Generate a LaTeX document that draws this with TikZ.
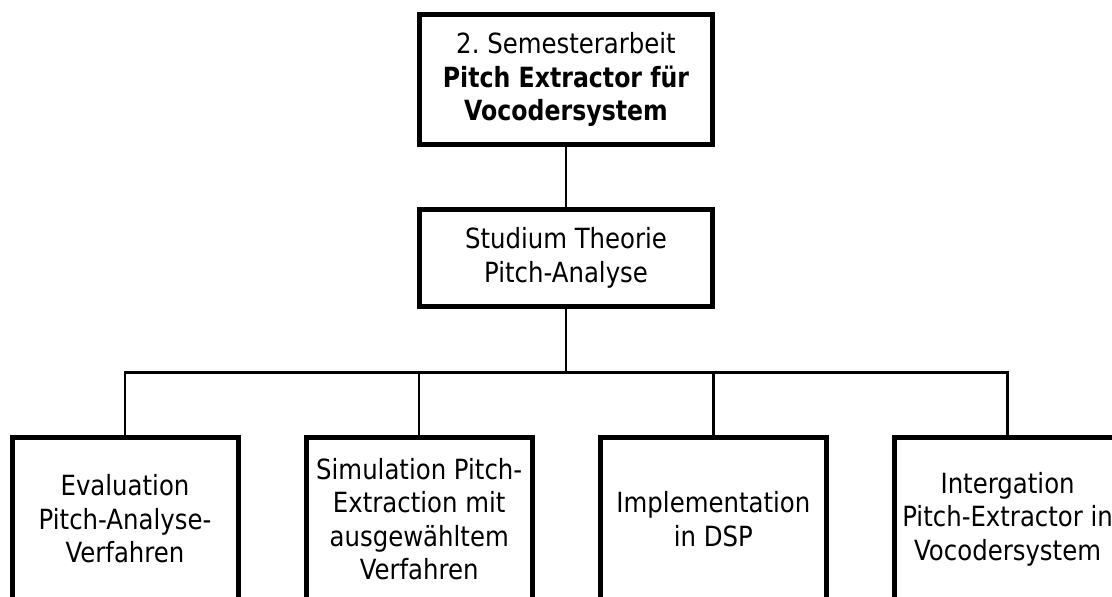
\documentclass[tikz,border=0pt]{standalone}
\usepackage{fontspec}
\setmainfont{DejaVu Sans}[FakeStretch=0.878,BoldFeatures={FakeStretch=0.85}]
\tikzset{
  box/.style={draw,line width=5pt,align=center,inner sep=0pt,font=\fontsize{27.8}{33.5}\selectfont\frenchspacing},
  conn/.style={line width=2.5pt},
}
\begin{document}
\begin{tikzpicture}[x=1pt,y=-1pt]
\pgfmathsetmacro{\kbw}{226}
\pgfmathsetmacro{\kbh}{163}
\pgfmathsetmacro{\kxstep}{294.2}
\pgfmathsetmacro{\kbus}{372.5}
\path[use as bounding box,clip](0,0) rectangle (1112,597);
\node[box,minimum width=293pt,minimum height=130pt](thesis) at (566,79.5){2. Semesterarbeit\\\textbf{Pitch Extractor für}\\\textbf{Vocodersystem}};
\node[box,minimum width=293pt,minimum height=96.5pt](theory) at (566,258){Studium Theorie\\Pitch-Analyse};
\coordinate (bus) at (566,\kbus);
\draw[conn](thesis)--(theory);
\draw[conn](theory)--(bus);
%\draw[gray,dashed](125,\kbus)--(1007,\kbus);
\foreach \kx/\kname/\klb in {0/evaluation/{Evaluation\\Pitch-Analyse-\\Verfahren},1/simulation/{Simulation Pitch-\\Extraction mit\\ausgewähltem\\Verfahren},2/implementation/{Implementation\\in DSP},3/integration/{Intergation\\Pitch-Extractor in\\Vocodersystem}}{
\node[box,minimum width=\kbw pt,minimum height=\kbh pt](\kname) at (125+\kx*\kxstep,519){\klb};
\draw[conn](bus)-|(\kname);
}
\end{tikzpicture}
\end{document}
